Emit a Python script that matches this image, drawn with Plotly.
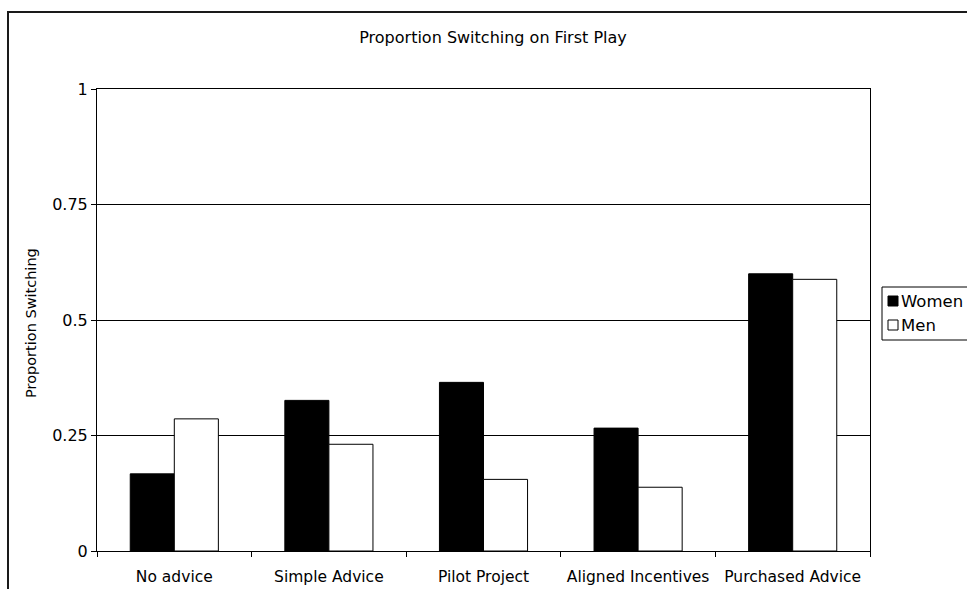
import plotly.graph_objects as go

# Treatment conditions and proportion of subjects switching on first play
categories = ["No advice", "Simple Advice", "Pilot Project", "Aligned Incentives", "Purchased Advice"]
women = [0.167, 0.326, 0.365, 0.266, 0.600]
men = [0.286, 0.231, 0.155, 0.138, 0.588]
series_names = ["Women", "Men"]
series_fill = ["#000000", "#ffffff"]

y_ticks = [0, 0.25, 0.5, 0.75, 1]
y_ticktext = ["0", "0.25", "0.5", "0.75", "1"]

FONT = "DejaVu Sans"

fig = go.Figure()
for name, vals, fill in zip(series_names, [women, men], series_fill):
    fig.add_trace(go.Bar(
        x=categories, y=vals, name=name,
        marker=dict(color=fill, line=dict(color="#000000", width=1)),
        showlegend=False,
    ))

fig.update_layout(
    width=967, height=589,
    margin=dict(l=97, r=97, t=89, b=38, autoexpand=False),
    paper_bgcolor="white", plot_bgcolor="white",
    barmode="group", bargap=0.43, bargroupgap=0,
    font=dict(family=FONT, size=16, color="#000000"),
    title=dict(text="Proportion Switching on First Play",
               x=493 / 967, xref="container", xanchor="center",
               y=1 - 37 / 589, yref="container", yanchor="middle",
               font=dict(family=FONT, size=16, color="#000000")),
)

fig.update_xaxes(
    showline=True, linecolor="#000000", linewidth=1, mirror=True,
    ticks="outside", ticklen=5, tickcolor="#000000", tickson="boundaries",
    tickangle=0, ticklabelstandoff=11,
    tickfont=dict(family=FONT, size=15.5, color="#000000"),
    showgrid=False, zeroline=False,
)
fig.update_yaxes(
    range=[0, 1], tickvals=y_ticks, ticktext=y_ticktext,
    showline=True, linecolor="#000000", linewidth=1, mirror=True,
    ticks="outside", ticklen=5, tickcolor="#000000",
    tickfont=dict(family=FONT, size=16, color="#000000"),
    showgrid=True, gridcolor="#000000", gridwidth=1, zeroline=False,
)

def px_x(v):
    return (v - 97) / 773

def px_y(v):
    return (551 - v) / 462

# Y-axis title
fig.add_annotation(
    text="Proportion Switching", textangle=-90,
    xref="paper", yref="paper", x=px_x(31), y=px_y(323),
    xanchor="center", yanchor="middle", showarrow=False,
    font=dict(family=FONT, size=14.5, color="#000000"),
)

# Outer chart frame
fig.add_shape(type="rect", xref="paper", yref="paper",
              x0=px_x(8), x1=1.2, y0=-0.2, y1=px_y(12),
              line=dict(color="#1a1a1a", width=2), fillcolor="rgba(0,0,0,0)", layer="below")

# Legend box with swatches
fig.add_shape(type="rect", xref="paper", yref="paper",
              x0=px_x(882), x1=px_x(975), y0=px_y(340), y1=px_y(287),
              line=dict(color="#000000", width=1), fillcolor="white")
for i, (name, fill) in enumerate(zip(series_names, series_fill)):
    cy = 301 + i * 24
    fig.add_shape(type="rect", xref="paper", yref="paper",
                  x0=px_x(888), x1=px_x(898), y0=px_y(cy + 5), y1=px_y(cy - 5),
                  line=dict(color="#000000", width=1), fillcolor=fill)
    fig.add_annotation(text=name, xref="paper", yref="paper",
                       x=px_x(899), y=px_y(cy), xanchor="left", yanchor="middle",
                       showarrow=False, font=dict(family=FONT, size=16.5, color="#000000"))

fig.write_html("out.html")
